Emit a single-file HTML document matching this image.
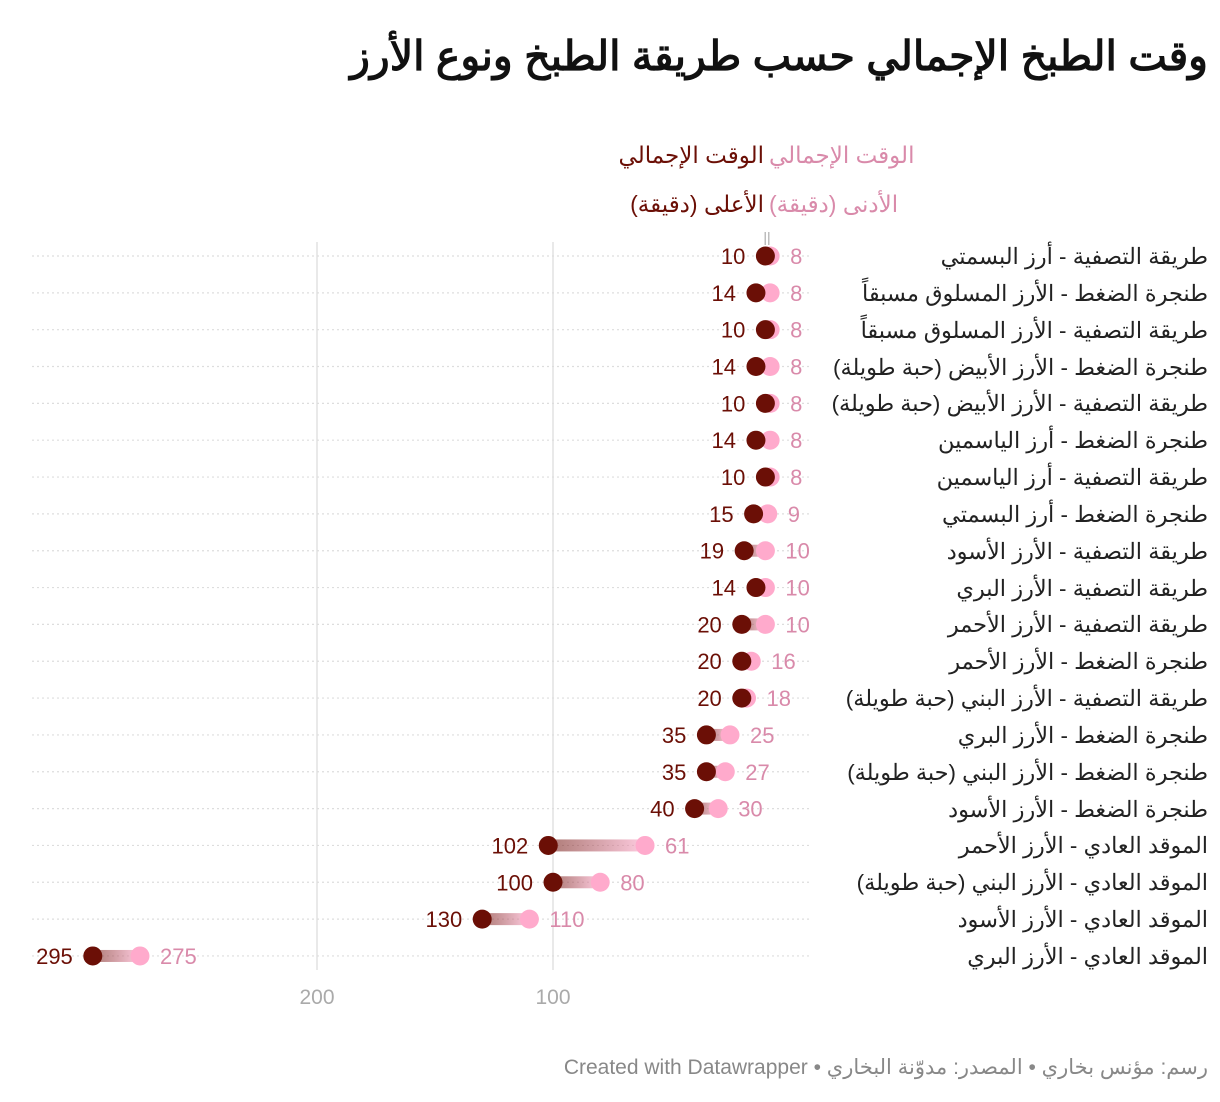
<!DOCTYPE html>
<html><head><meta charset="utf-8">
<style>
body{margin:0;background:#fff;width:1220px;height:1102px;overflow:hidden;position:relative;font-family:"Liberation Sans","Noto Sans CJK SC",sans-serif}
.t{position:absolute;direction:rtl;white-space:nowrap}
#title{right:12px;top:32px;font-size:41px;font-weight:bold;color:#111}
.h{font-size:23px}
.rl{position:absolute;right:12px;direction:rtl;font-size:22.4px;color:#222;white-space:nowrap}
#footer{right:12px;top:1055px;font-size:21px;color:#888}
svg{position:absolute;left:0;top:0}
</style></head><body>
<div id="title" class="t">وقت الطبخ الإجمالي حسب طريقة الطبخ ونوع الأرز</div>
<div class="t h" style="left:769px;top:142px;color:#d98aaa">الوقت الإجمالي</div>
<div class="t h" style="right:456px;top:142px;color:#6b0f06">الوقت الإجمالي</div>
<div class="t h" style="left:769px;top:191px;color:#d98aaa">الأدنى (دقيقة)</div>
<div class="t h" style="right:456px;top:191px;color:#6b0f06">الأعلى (دقيقة)</div>
<svg id="chart" width="1220" height="1102"></svg>
<div id="labels"></div>
<div id="footer" class="t">رسم: مؤنس بخاري • المصدر: مدوّنة البخاري • Created with Datawrapper</div>
<script>
const categories=["طريقة التصفية - أرز البسمتي","طنجرة الضغط - الأرز المسلوق مسبقاً","طريقة التصفية - الأرز المسلوق مسبقاً","طنجرة الضغط - الأرز الأبيض (حبة طويلة)","طريقة التصفية - الأرز الأبيض (حبة طويلة)","طنجرة الضغط - أرز الياسمين","طريقة التصفية - أرز الياسمين","طنجرة الضغط - أرز البسمتي","طريقة التصفية - الأرز الأسود","طريقة التصفية - الأرز البري","طريقة التصفية - الأرز الأحمر","طنجرة الضغط - الأرز الأحمر","طريقة التصفية - الأرز البني (حبة طويلة)","طنجرة الضغط - الأرز البري","طنجرة الضغط - الأرز البني (حبة طويلة)","طنجرة الضغط - الأرز الأسود","الموقد العادي - الأرز الأحمر","الموقد العادي - الأرز البني (حبة طويلة)","الموقد العادي - الأرز الأسود","الموقد العادي - الأرز البري"];
const minValues=[8,8,8,8,8,8,8,9,10,10,10,16,18,25,27,30,61,80,110,275];
const maxValues=[10,14,10,14,10,14,10,15,19,14,20,20,20,35,35,40,102,100,130,295];
const ticks=[200,100];
const NS="http://www.w3.org/2000/svg";
const svg=document.getElementById('chart');
const x=v=>789-v*2.36;
const y=i=>256+i*36.84;
function mk(t,a){const e=document.createElementNS(NS,t);for(const k in a)e.setAttribute(k,a[k]);svg.appendChild(e);return e;}
const defs=mk('defs',{});
const g=document.createElementNS(NS,'linearGradient');g.setAttribute('id','gr');
g.innerHTML='<stop offset="0" stop-color="#6b0f06" stop-opacity="0.55"/><stop offset="1" stop-color="#ffaacc" stop-opacity="0.6"/>';
defs.appendChild(g);
ticks.forEach(t=>{
 const l=mk('line',{x1:x(t),x2:x(t),y1:242,y2:970,stroke:'#e2e2e2','stroke-width':1.5});
 
 
 const tx=mk('text',{x:x(t),y:1004,'text-anchor':'middle','font-size':21,fill:'#aaa','font-family':'Liberation Sans, sans-serif'});
 tx.textContent=t;
 
 
});
mk('text',{x:767,y:242,'text-anchor':'middle','font-size':14,fill:'#aaa'}).textContent='||';
const lab=document.getElementById('labels');
categories.forEach((c,i)=>{
 const yy=y(i);
 const gl=mk('line',{x1:32,x2:810,y1:yy,y2:yy,stroke:'#ddd','stroke-width':1.2,'stroke-dasharray':'2,3'});
 
 
 const x1=x(maxValues[i]),x2=x(minValues[i]);
 if(x2-x1>1){
  const r=mk('rect',{x:x1,y:yy-6,width:x2-x1,height:12,fill:'url(#gr)'});
  
  
 }
 const d2=mk('circle',{cx:x2,cy:yy,r:9.5,fill:'#ffaacc'});
 
 
 const d1=mk('circle',{cx:x1,cy:yy,r:9.5,fill:'#6b0f06'});
 
 
 const t1=mk('text',{x:x1-20,y:yy+8,'text-anchor':'end','font-size':22,fill:'#6b0f06','font-family':'Liberation Sans, sans-serif'});
 t1.textContent=maxValues[i];
 
 
 const t2=mk('text',{x:x2+20,y:yy+8,'text-anchor':'start','font-size':22,fill:'#d98aaa','font-family':'Liberation Sans, sans-serif'});
 t2.textContent=minValues[i];
 
 
 const d=document.createElement('div');
 d.className='rl';d.style.top=(yy-12)+'px';d.textContent=c;
 
 
 lab.appendChild(d);
});
</script>
</body></html>
